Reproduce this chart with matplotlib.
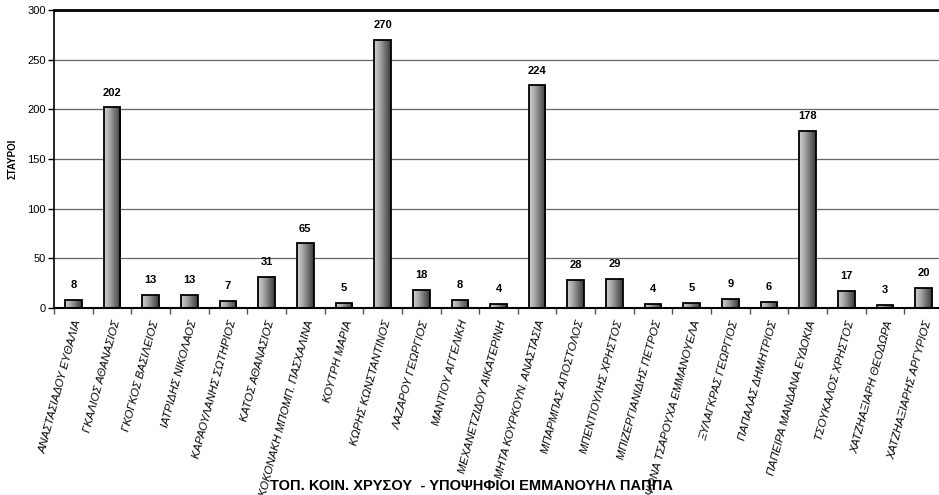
import numpy as np
import matplotlib
matplotlib.use("Agg")
import matplotlib.pyplot as plt
from matplotlib.colors import LinearSegmentedColormap

names = [
    "ΑΝΑΣΤΑΣΙΑΔΟΥ ΕΥΘΑΛΙΑ", "ΓΚΑΛΙΟΣ ΑΘΑΝΑΣΙΟΣ", "ΓΚΟΓΚΟΣ ΒΑΣΙΛΕΙΟΣ",
    "ΙΑΤΡΙΔΗΣ ΝΙΚΟΛΑΟΣ", "ΚΑΡΑΟΥΛΑΝΗΣ ΣΩΤΗΡΙΟΣ", "ΚΑΤΟΣ ΑΘΑΝΑΣΙΟΣ",
    "ΚΟΚΟΝΑΚΗ ΜΠΟΜΠ. ΠΑΣΧΑΛΙΝΑ", "ΚΟΥΤΡΗ ΜΑΡΙΑ", "ΚΩΡΗΣ ΚΩΝΣΤΑΝΤΙΝΟΣ",
    "ΛΑΖΑΡΟΥ ΓΕΩΡΓΙΟΣ", "ΜΑΝΤΙΟΥ ΑΓΓΕΛΙΚΗ", "ΜΕΧΑΝΕΤΖΙΔΟΥ ΑΙΚΑΤΕΡΙΝΗ",
    "ΜΗΤΑ ΚΟΥΡΚΟΥΝ. ΑΝΑΣΤΑΣΙΑ", "ΜΠΑΡΜΠΑΣ ΑΠΟΣΤΟΛΟΣ", "ΜΠΕΝΤΙΟΥΛΗΣ ΧΡΗΣΤΟΣ",
    "ΜΠΙΖΕΡΓΙΑΝΙΔΗΣ ΠΕΤΡΟΣ", "ΨΩΝΑ ΤΣΑΡΟΥΧΑ ΕΜΜΑΝΟΥΕΛΑ", "ΞΥΛΑΓΚΡΑΣ ΓΕΩΡΓΙΟΣ",
    "ΠΑΠΑΛΑΣ ΔΗΜΗΤΡΙΟΣ", "ΠΑΠΕΙΡΑ ΜΑΝΔΑΝΑ ΕΥΔΟΚΙΑ", "ΤΣΟΥΚΑΛΟΣ ΧΡΗΣΤΟΣ",
    "ΧΑΤΖΗΑΞΙΑΡΗ ΘΕΟΔΩΡΑ", "ΧΑΤΖΗΑΞΙΑΡΗΣ ΑΡΓΥΡΙΟΣ",
]
votes = [8, 202, 13, 13, 7, 31, 65, 5, 270, 18, 8, 4, 224, 28, 29, 4, 5, 9, 6, 178, 17, 3, 20]
yticks = [0, 50, 100, 150, 200, 250, 300]
title = "ΤΟΠ. ΚΟΙΝ. ΧΡΥΣΟΥ  - ΥΠΟΨΗΦΙΟΙ ΕΜΜΑΝΟΥΗΛ ΠΑΠΠΑ"
ylabel = "ΣΤΑΥΡΟΙ"

plt.rcParams['font.family'] = ['Liberation Sans', 'DejaVu Sans']

W, H = 939, 495
fig = plt.figure(figsize=(W / 100, H / 100), dpi=100)
ax = fig.add_axes([54 / W, 1 - 308 / H, (943 - 54) / W, (308 - 10) / H])

n = len(votes)
x = np.arange(n)
bw = 0.43
cmap = LinearSegmentedColormap.from_list("g", ["#d0d0d0", "#a8a8a8", "#707070", "#3a3a3a"])
grad = np.linspace(0, 1, 64).reshape(1, -1)

for yv in yticks[1:-1]:
    ax.axhline(yv, color="#666666", lw=0.9, zorder=0)
ax.axhline(300, color="black", lw=2.0, zorder=0, clip_on=False)

bars = ax.bar(x, votes, width=bw, facecolor="none", edgecolor="black", lw=1.3, zorder=3)
for b in bars:
    x0, y0 = b.get_x(), b.get_y()
    im = ax.imshow(grad, cmap=cmap, aspect="auto",
                   extent=[x0, x0 + b.get_width(), y0, y0 + b.get_height()],
                   zorder=2, interpolation="bilinear")
    im.set_clip_path(b)

for xi, v in zip(x, votes):
    ax.annotate(str(v), (xi, v), xytext=(0, 7), textcoords="offset points",
                ha="center", va="bottom", fontsize=8, fontweight="bold")

ax.set_xlim(-0.5, n - 0.5)
ax.set_ylim(0, 300)
ax.set_yticks(yticks)
ax.tick_params(axis="y", labelsize=8, length=4, width=1, direction="out", pad=2)
ax.set_xticks(np.arange(n + 1) - 0.5, minor=False)
ax.set_xticklabels([])
ax.tick_params(axis="x", length=4, width=1, direction="out", color="#555555")
ax.set_xticks(x, minor=True)
ax.set_xticklabels(names, minor=True, rotation=75, ha="right", rotation_mode="anchor",
                   fontsize=8.2, fontstyle="italic")
ax.tick_params(axis="x", which="minor", length=0, pad=8)

for s in ["top", "right"]:
    ax.spines[s].set_visible(False)
ax.spines["left"].set_linewidth(1.2)
ax.spines["bottom"].set_linewidth(1.5)

ax.set_ylabel(ylabel, fontsize=7, fontweight="bold")
ax.yaxis.set_label_coords(-36 / (943 - 54), 0.5)

fig.text(472 / W, 1 - 486 / H, title, ha="center", va="center", fontsize=10.5, fontweight="bold")

fig.savefig("out.png", dpi=100)
